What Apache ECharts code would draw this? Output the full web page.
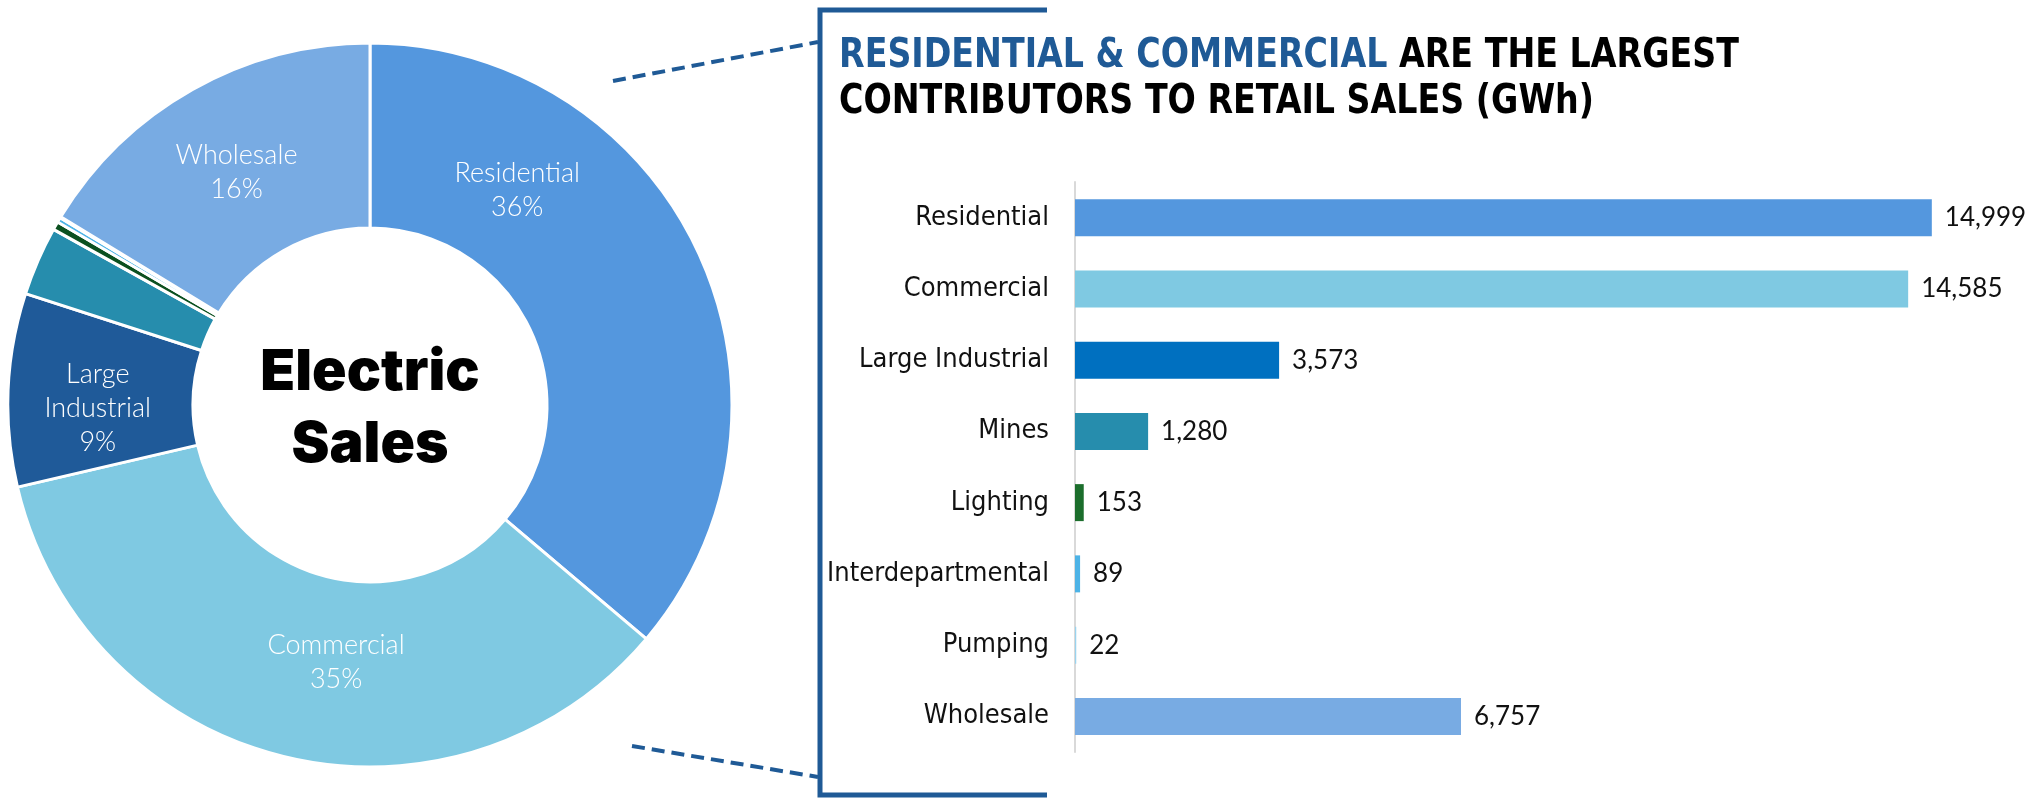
<!DOCTYPE html>
<html>
<head>
<meta charset="utf-8">
<script src="https://cdn.jsdelivr.net/npm/echarts@6/dist/echarts.min.js"></script>
<style>html,body{margin:0;padding:0;background:#fff}#c{width:2040px;height:800px}</style>
</head>
<body>
<div id="c"></div>
<script>
// ---- data ----
const categories = ['Residential','Commercial','Large Industrial','Mines','Lighting','Interdepartmental','Pumping','Wholesale'];
const salesGWh = [14999, 14585, 3573, 1280, 153, 89, 22, 6757];
const pieLabelNames = ['Residential','Commercial','Large\nIndustrial','Mines','Lighting','Interdepartmental','Pumping','Wholesale'];
const pieShowLabel = [true, true, true, false, false, false, false, true];
const pieColors = ['#5497DE','#7FC9E2','#1F5A99','#268DAD','#0B5020','#4DB3E6','#9AD3EE','#78ABE3'];
const barColors = ['#5497DE','#7FC9E2','#0070C0','#268DAD','#1C6E2C','#4DB3E6','#9AD3EE','#78ABE3'];
const xAxisMax = 16000;
const centerTitle = 'Electric\nSales';
const titleHighlight = 'RESIDENTIAL & COMMERCIAL';
const titleRest1 = ' ARE THE LARGEST';
const titleLine2 = 'CONTRIBUTORS TO RETAIL SALES (GWh)';

const chart = echarts.init(document.getElementById('c'), null, {renderer:'canvas'});
const total = salesGWh.reduce((a,b)=>a+b,0);
const pieLabelShift = {0:[-100,-100], 1:[30,-8], 2:[0,15], 7:[0,5]};
const condFont = "'DejaVu Sans Condensed','DejaVu Sans',sans-serif";

const option = {
  backgroundColor:'#fff',
  animation:false,
  graphic:[
    {type:'polyline', shape:{points:[[1047,10],[820,10],[820,795],[1047,795]]}, style:{stroke:'#1F5A96', lineWidth:5, fill:null}},
    {type:'line', shape:{x1:613,y1:81,x2:818,y2:42}, style:{stroke:'#1F5A96', lineWidth:4, lineDash:[13,7]}},
    {type:'line', shape:{x1:632,y1:746,x2:818,y2:777}, style:{stroke:'#1F5A96', lineWidth:4, lineDash:[13,7]}},
    {type:'text', x:370, y:409, style:{text:centerTitle, fill:'#000', font:"900 57px Inter", textAlign:'center', textVerticalAlign:'middle', lineHeight:72}},
    {type:'text', x:839, y:34, scaleX:0.925,
      style:{
        text:'{b|'+titleHighlight+'}{k|'+titleRest1+'}\n{k|'+titleLine2+'}',
        rich:{
          b:{fill:'#1F5A96', fontSize:40, fontWeight:'bold', fontFamily:condFont, lineHeight:46},
          k:{fill:'#000', fontSize:40, fontWeight:'bold', fontFamily:condFont, lineHeight:46}
        }
      }}
  ],
  grid:{left:1075, top:182, width:914, height:570, containLabel:false},
  xAxis:{type:'value', min:0, max:xAxisMax, show:false},
  yAxis:{type:'category', data:categories, inverse:true,
    axisLine:{show:true, lineStyle:{color:'#D9D9D9', width:2}},
    axisTick:{show:false},
    axisLabel:{color:'#111', fontSize:27, fontFamily:condFont, margin:26}
  },
  series:[
    {
      type:'bar', barWidth:37,
      data: salesGWh.map((v,i)=>({value:v, itemStyle:{color:barColors[i]}})),
      label:{show:true, position:'right', distance:13, color:'#111', fontSize:26, fontFamily:'Lato',
        formatter:p=>p.value.toLocaleString('en-US')}
    },
    {
      type:'pie', center:[370,405], radius:[177,362], startAngle:90, clockwise:true,
      itemStyle:{borderColor:'#fff', borderWidth:3},
      data: salesGWh.map((v,i)=>({value:v, name:categories[i], itemStyle:{color:pieColors[i]},
        label:{show:pieShowLabel[i]}})),
      label:{position:'inside', color:'#fff', fontSize:27, fontWeight:300, lineHeight:34, fontFamily:'Lato',
        formatter:p=>pieLabelNames[p.dataIndex]+'\n'+Math.round(p.value/total*100)+'%'},
      labelLine:{show:false},
      labelLayout:function(params){
        const s = pieLabelShift[params.dataIndex];
        return s ? {dx:s[0], dy:s[1]} : {};
      },
      emphasis:{disabled:true}
    }
  ]
};
chart.setOption(option);
</script>
</body>
</html>
